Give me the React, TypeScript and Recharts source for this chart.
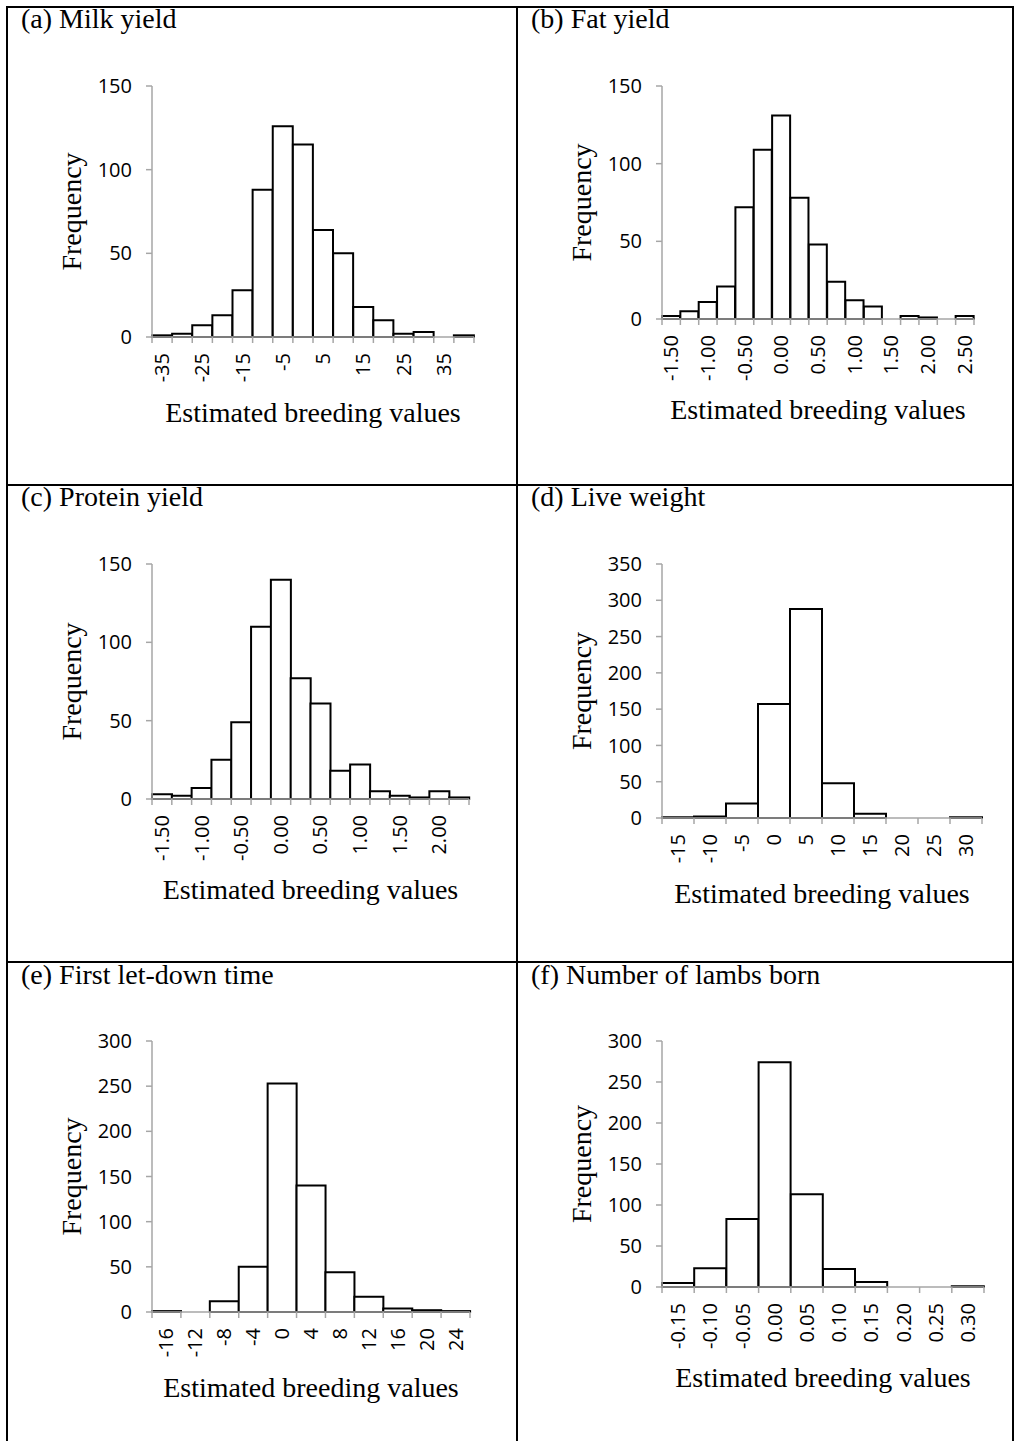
import { BarChart, Bar, XAxis, YAxis } from "recharts";

// bin labels and counts
const milkBins = ["-35", "-30", "-25", "-20", "-15", "-10", "-5", "0", "5", "10", "15", "20", "25", "30", "35", "40"];
const milkCounts = [1, 2, 7, 13, 28, 88, 126, 115, 64, 50, 18, 10, 2, 3, 0, 1];

const fatBins = ["-1.50", "-1.25", "-1.00", "-0.75", "-0.50", "-0.25", "0.00", "0.25", "0.50", "0.75", "1.00", "1.25", "1.50", "1.75", "2.00", "2.25", "2.50"];
const fatCounts = [2, 5, 11, 21, 72, 109, 131, 78, 48, 24, 12, 8, 0, 2, 1, 0, 2];

const proteinBins = ["-1.50", "-1.25", "-1.00", "-0.75", "-0.50", "-0.25", "0.00", "0.25", "0.50", "0.75", "1.00", "1.25", "1.50", "1.75", "2.00", "2.25"];
const proteinCounts = [3, 2, 7, 25, 49, 110, 140, 77, 61, 18, 22, 5, 2, 1, 5, 1];

const weightBins = ["-15", "-10", "-5", "0", "5", "10", "15", "20", "25", "30"];
const weightCounts = [1, 2, 20, 157, 288, 48, 6, 0, 0, 1];

const letDownBins = ["-16", "-12", "-8", "-4", "0", "4", "8", "12", "16", "20", "24"];
const letDownCounts = [1, 0, 12, 50, 253, 140, 44, 17, 4, 2, 1];

const lambsBins = ["-0.15", "-0.10", "-0.05", "0.00", "0.05", "0.10", "0.15", "0.20", "0.25", "0.30"];
const lambsCounts = [5, 23, 83, 274, 113, 22, 6, 0, 0, 1];

const yTicks150 = [0, 50, 100, 150];
const yTicks300 = [0, 50, 100, 150, 200, 250, 300];
const yTicks350 = [0, 50, 100, 150, 200, 250, 300, 350];

const AXIS_GREY = "#a6a6a6";
const SERIF = "'Liberation Serif', 'Times New Roman', serif";
const SANS = "'Open Sans', sans-serif";
const TICK_SIZE = 6;
const TICK_MARGIN = 10;
const Y_AXIS_W = 60;
const X_AXIS_H = 80;
const TOP_PAD = 14;
const RIGHT_PAD = 10;

type Plot = { left: number; right: number; top: number; bottom: number };

type Panel = {
  title: string;
  bins: string[];
  counts: number[];
  yTicks: number[];
  labelStep: number;
  plot: Plot;
  titleX: number;
  titleY: number;
  freqX: number;
  xTitleY: number;
};

const panels: Panel[] = [
  { title: "(a) Milk yield", bins: milkBins, counts: milkCounts, yTicks: yTicks150, labelStep: 2, plot: { left: 152, right: 474, top: 86, bottom: 337 }, titleX: 21, titleY: 28, freqX: 81, xTitleY: 422 },
  { title: "(b) Fat yield", bins: fatBins, counts: fatCounts, yTicks: yTicks150, labelStep: 2, plot: { left: 662, right: 974, top: 86, bottom: 319 }, titleX: 531, titleY: 28, freqX: 591, xTitleY: 419 },
  { title: "(c) Protein yield", bins: proteinBins, counts: proteinCounts, yTicks: yTicks150, labelStep: 2, plot: { left: 152, right: 469, top: 564, bottom: 799 }, titleX: 21, titleY: 506, freqX: 81, xTitleY: 899 },
  { title: "(d) Live weight", bins: weightBins, counts: weightCounts, yTicks: yTicks350, labelStep: 1, plot: { left: 662, right: 982, top: 564, bottom: 818 }, titleX: 531, titleY: 506, freqX: 591, xTitleY: 903 },
  { title: "(e) First let-down time", bins: letDownBins, counts: letDownCounts, yTicks: yTicks300, labelStep: 1, plot: { left: 152, right: 470, top: 1041, bottom: 1312 }, titleX: 21, titleY: 984, freqX: 81, xTitleY: 1397 },
  { title: "(f) Number of lambs born", bins: lambsBins, counts: lambsCounts, yTicks: yTicks300, labelStep: 1, plot: { left: 662, right: 984, top: 1041, bottom: 1287 }, titleX: 531, titleY: 984, freqX: 591, xTitleY: 1387 },
];

// category tick: rotated label at the bin centre, tick marks on the bin edges
function BinTick(props: any) {
  const { x, y, payload, bins, step, bandWidth } = props;
  const i = bins.indexOf(String(payload.value));
  const axisY = y - TICK_SIZE - TICK_MARGIN;
  const leftEdge = x - bandWidth / 2;
  const rightEdge = x + bandWidth / 2;
  return (
    <g>
      <line x1={leftEdge} x2={leftEdge} y1={axisY} y2={axisY + TICK_SIZE} stroke={AXIS_GREY} strokeWidth={1.5} />
      {i === bins.length - 1 && (
        <line x1={rightEdge} x2={rightEdge} y1={axisY} y2={axisY + TICK_SIZE} stroke={AXIS_GREY} strokeWidth={1.5} />
      )}
      {i % step === 0 && (
        <text
          x={x}
          y={y}
          dy="0.35em"
          transform={`rotate(-90, ${x}, ${y})`}
          textAnchor="end"
          fontSize={20}
          fontFamily={SANS}
          fill="#000"
        >
          {payload.value}
        </text>
      )}
    </g>
  );
}

function Histogram({ panel }: { panel: Panel }) {
  const { plot, bins, counts, yTicks, labelStep } = panel;
  const plotW = plot.right - plot.left;
  const plotH = plot.bottom - plot.top;
  const data = bins.map((bin, i) => ({ bin, count: counts[i] }));
  const bandWidth = plotW / bins.length;

  return (
    <div style={{ position: "absolute", left: plot.left - Y_AXIS_W, top: plot.top - TOP_PAD }}>
      <BarChart
        width={Y_AXIS_W + plotW + RIGHT_PAD}
        height={TOP_PAD + plotH + X_AXIS_H}
        data={data}
        margin={{ top: TOP_PAD, right: RIGHT_PAD, bottom: 0, left: 0 }}
        barCategoryGap={0}
        barGap={0}
      >
        <XAxis
          dataKey="bin"
          height={X_AXIS_H}
          interval={0}
          tickLine={false}
          tickSize={TICK_SIZE}
          tickMargin={TICK_MARGIN}
          axisLine={{ stroke: AXIS_GREY, strokeWidth: 1.5 }}
          tick={(p: any) => <BinTick {...p} bins={bins} step={labelStep} bandWidth={bandWidth} />}
        />
        <YAxis
          width={Y_AXIS_W}
          type="number"
          domain={[0, yTicks[yTicks.length - 1]]}
          ticks={yTicks}
          interval={0}
          tickSize={TICK_SIZE}
          tickMargin={14}
          tickLine={{ stroke: AXIS_GREY, strokeWidth: 1.5 }}
          axisLine={{ stroke: AXIS_GREY, strokeWidth: 1.5 }}
          tick={{ fill: "#000", fontSize: 20, fontFamily: SANS }}
        />
        <Bar dataKey="count" fill="#fff" stroke="#000" strokeWidth={2} isAnimationActive={false} />
      </BarChart>
    </div>
  );
}

export default function App() {
  return (
    <div style={{ position: "absolute", left: 0, top: 0, width: 1016, height: 1441, background: "#fff", overflow: "hidden" }}>
      {panels.map((p) => (
        <Histogram key={p.title} panel={p} />
      ))}
      <svg width={1016} height={1441} style={{ position: "absolute", left: 0, top: 0, pointerEvents: "none" }}>
        <g stroke="#000" strokeWidth={2}>
          <line x1={6} x2={1014} y1={7} y2={7} />
          <line x1={6} x2={1014} y1={485} y2={485} />
          <line x1={6} x2={1014} y1={962} y2={962} />
          <line x1={7} x2={7} y1={6} y2={1441} />
          <line x1={517} x2={517} y1={6} y2={1441} />
          <line x1={1013} x2={1013} y1={6} y2={1441} />
        </g>
        {panels.map((p) => {
          const cx = (p.plot.left + p.plot.right) / 2;
          const cy = (p.plot.top + p.plot.bottom) / 2;
          return (
            <g key={p.title} fontFamily={SERIF} fontSize={28} fill="#000">
              <text x={p.titleX} y={p.titleY}>{p.title}</text>
              <text x={p.freqX} y={cy} textAnchor="middle" transform={`rotate(-90, ${p.freqX}, ${cy})`}>
                Frequency
              </text>
              <text x={cx} y={p.xTitleY} textAnchor="middle">Estimated breeding values</text>
            </g>
          );
        })}
      </svg>
    </div>
  );
}
